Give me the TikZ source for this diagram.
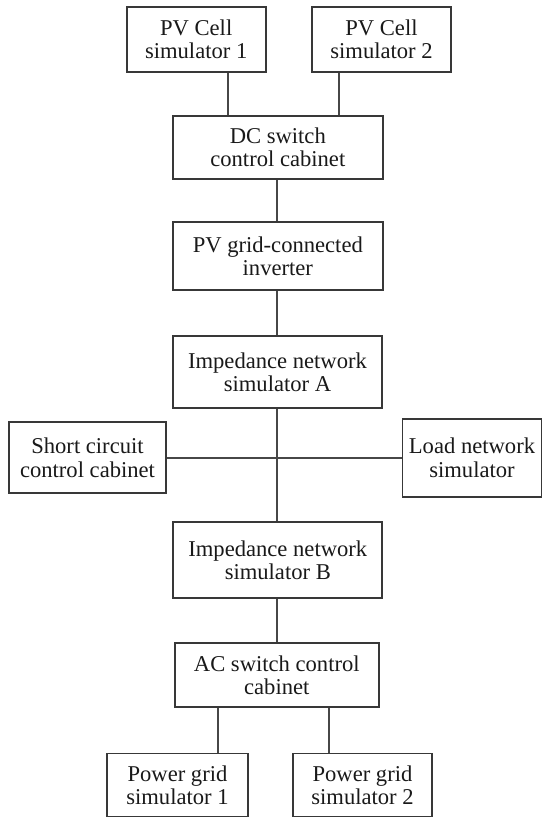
\documentclass[tikz,border=0pt]{standalone}
\usepackage{fontspec}
\setmainfont{Liberation Serif}

\begin{document}
\begin{tikzpicture}[x=0.5pt, y=-0.5pt,
    unit/.style={draw=black!78, line width=0.9pt, align=center,
      inner sep=0pt, text=black!90,
      font=\fontsize{11.3}{11.6}\selectfont},
    wire/.style={draw=black!72, line width=0.9pt}]
  \useasboundingbox (0,0) rectangle (543,818);

  % photovoltaic side
  \node [unit, minimum width=69.5pt, minimum height=32.2pt]
    (pv1) at (196.2,39.5) {PV Cell\\simulator 1};
  \node [unit, minimum width=69.5pt, minimum height=32.2pt]
    (pv2) at (381.5,39.5) {PV Cell\\simulator 2};
  \node [unit, minimum width=104.8pt, minimum height=31.8pt]
    (dc) at (277.8,147.5) {DC switch\\control cabinet};
  \node [unit, minimum width=104.8pt, minimum height=34pt]
    (inv) at (277.8,256) {PV grid-connected\\inverter};

  % network side
  \node [unit, minimum width=104.2pt, minimum height=36.3pt]
    (impa) at (277.5,372) {Impedance network\\simulator A};
  \node [unit, minimum width=78.2pt, minimum height=35.5pt]
    (short) at (87.5,457.8) {Short circuit\\control cabinet};
  \node [unit, minimum width=69.5pt, minimum height=39pt]
    (load) at (472,457.8) {Load network\\simulator};
  \node [unit, minimum width=104.5pt, minimum height=37.7pt]
    (impb) at (277.8,560) {Impedance network\\simulator B};

  % grid side
  \node [unit, minimum width=101.8pt, minimum height=32.3pt]
    (ac) at (276.8,675) {AC switch control\\cabinet};
  \node [unit, minimum width=70.2pt, minimum height=31.5pt]
    (pg1) at (177.5,785) {Power grid\\simulator 1};
  \node [unit, minimum width=69.8pt, minimum height=31.5pt]
    (pg2) at (362.5,785) {Power grid\\simulator 2};

  \coordinate (l1) at (227.7,0);
  \coordinate (l2) at (339,0);
  \coordinate (trunk) at (277,0);
  \coordinate (g1) at (218.3,0);
  \coordinate (g2) at (329.3,0);

  \draw [wire] (pv1.south -| l1) -- (dc.north -| l1);
  \draw [wire] (pv2.south -| l2) -- (dc.north -| l2);
  \draw [wire] (dc.south -| trunk) -- (inv.north -| trunk);
  \draw [wire] (inv.south -| trunk) -- (impa.north -| trunk);
  \draw [wire] (impa.south -| trunk) -- (impb.north -| trunk);
  \draw [wire] (short.east) -- (load.west);
  \draw [wire] (impb.south -| trunk) -- (ac.north -| trunk);
  \draw [wire] (ac.south -| g1) -- (pg1.north -| g1);
  \draw [wire] (ac.south -| g2) -- (pg2.north -| g2);
\end{tikzpicture}
\end{document}
